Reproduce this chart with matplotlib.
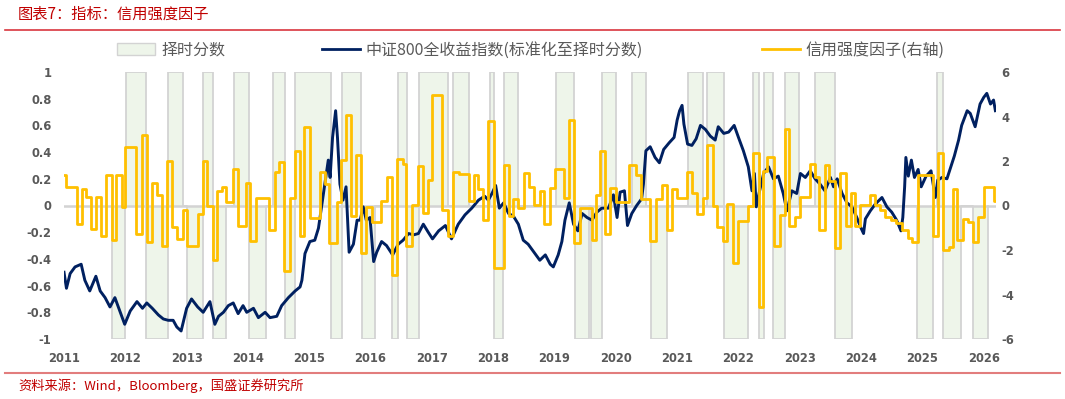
import matplotlib
matplotlib.use('Agg')
import matplotlib.pyplot as plt
from matplotlib.patches import Patch
from matplotlib.lines import Line2D

plt.rcParams['font.family'] = ['Noto Sans CJK SC', 'DejaVu Sans']

# 信用强度因子（右轴），阶梯序列：变化起点（年份小数）与取值
credit_dates = [2011.00, 2011.03, 2011.21, 2011.29, 2011.36, 2011.44, 2011.52, 2011.60, 2011.69, 2011.78,
                2011.85, 2011.94, 2012.00, 2012.17, 2012.27, 2012.35, 2012.43, 2012.51, 2012.60, 2012.68,
                2012.76, 2012.84, 2012.94, 2013.01, 2013.19, 2013.26, 2013.34, 2013.43, 2013.50, 2013.58,
                2013.65, 2013.75, 2013.83, 2013.97, 2014.03, 2014.13, 2014.35, 2014.44, 2014.51, 2014.58,
                2014.69, 2014.77, 2014.85, 2014.92, 2015.01, 2015.18, 2015.26, 2015.33, 2015.45, 2015.52,
                2015.60, 2015.68, 2015.76, 2015.84, 2015.93, 2016.03, 2016.17, 2016.26, 2016.35, 2016.43,
                2016.53, 2016.57, 2016.68, 2016.77, 2016.85, 2016.94, 2017.00, 2017.16, 2017.26, 2017.34,
                2017.45, 2017.60, 2017.68, 2017.76, 2017.84, 2017.92, 2018.01, 2018.17, 2018.25, 2018.33,
                2018.41, 2018.51, 2018.59, 2018.67, 2018.77, 2018.83, 2018.92, 2019.01, 2019.16, 2019.24,
                2019.32, 2019.42, 2019.61, 2019.68, 2019.74, 2019.83, 2019.91, 2020.00, 2020.22, 2020.33,
                2020.41, 2020.56, 2020.66, 2020.75, 2020.83, 2020.91, 2021.00, 2021.16, 2021.24, 2021.33,
                2021.42, 2021.49, 2021.58, 2021.65, 2021.75, 2021.82, 2021.91, 2022.00, 2022.16, 2022.24,
                2022.33, 2022.40, 2022.47, 2022.58, 2022.67, 2022.76, 2022.83, 2022.92, 2023.01, 2023.16,
                2023.25, 2023.32, 2023.41, 2023.48, 2023.57, 2023.65, 2023.76, 2023.84, 2023.90, 2023.99,
                2024.15, 2024.23, 2024.31, 2024.39, 2024.49, 2024.57, 2024.67, 2024.76, 2024.83, 2024.92,
                2025.18, 2025.26, 2025.34, 2025.43, 2025.50, 2025.57, 2025.66, 2025.75, 2025.83, 2025.91,
                2026.00, 2026.16]
credit_vals = [1.35, 0.82, -0.82, 0.75, 0.37, -1.05, 0.37, -1.38, 1.39, -1.57,
               1.39, -0.07, 2.65, -1.27, 3.18, -1.65, 1.00, 0.45, -1.80, 1.98,
               -0.95, -1.50, -0.20, -1.80, -0.37, 2.02, -0.03, -2.44, 0.63, 0.82,
               0.15, 1.65, -0.90, 1.00, -1.60, 0.33, -1.12, 1.52, 1.97, -2.94,
               0.33, 2.47, -1.35, 3.54, -0.57, 1.52, 0.97, -1.69, 0.15, 2.05,
               4.07, -0.45, 2.27, -2.14, -0.07, -0.72, 0.18, 1.27, -3.14, 2.09,
               1.87, -1.84, 0.03, 1.79, -0.34, 1.15, 4.96, -0.22, -1.39, 1.52,
               1.42, 0.18, 1.35, 0.75, -0.64, 3.81, -2.81, 1.82, -0.45, 0.30,
               -0.12, 1.45, 0.82, 0.03, 0.63, -0.82, 0.78, 1.64, 0.34, 3.86,
               -1.69, -0.12, -1.57, 0.45, 2.47, -1.27, 0.78, 0.15, 1.82, 1.35,
               0.30, -1.61, 0.30, 0.94, -1.12, 0.75, 0.33, 1.52, 0.57, -0.40,
               0.33, 2.74, -0.04, -0.97, -1.61, 0.07, -2.57, -0.70, -0.04, 2.35,
               -4.54, 1.53, 2.20, -1.80, -0.42, 3.45, -0.90, -0.52, 0.40, 1.87,
               1.30, -1.09, 1.83, 1.08, -1.92, 1.45, -0.90, 0.57, -0.90, 0.03,
               0.49, 0.03, -0.22, -0.52, -0.67, -0.79, -1.12, -1.45, -1.65, 1.35,
               -1.35, 2.35, -2.00, -1.87, 0.75, -1.54, -0.60, -0.75, -1.65, -0.50,
               0.82, 0.22]
credit_end = 2026.19

# 择时分数：区间起止与取值（+1 / -1）
score_start = [2011.78, 2012.01, 2012.33, 2012.69, 2013.01, 2013.26, 2013.43, 2013.78, 2014.02, 2014.41,
               2014.60, 2014.77, 2015.35, 2015.53, 2015.86, 2016.35, 2016.44, 2016.60, 2016.79, 2017.34,
               2017.94, 2018.01, 2018.17, 2019.03, 2019.34, 2019.59, 2019.77, 2020.26, 2020.58, 2021.17,
               2021.48, 2021.76, 2022.24, 2022.34, 2022.41, 2022.57, 2022.76, 2023.24, 2023.57, 2024.91,
               2025.24, 2025.33, 2025.83]
score_end = [2012.00, 2012.33, 2012.69, 2012.94, 2013.26, 2013.43, 2013.65, 2014.01, 2014.29, 2014.60,
             2014.77, 2015.35, 2015.53, 2015.84, 2016.07, 2016.44, 2016.60, 2016.79, 2017.27, 2017.60,
             2018.01, 2018.16, 2018.40, 2019.32, 2019.56, 2019.77, 2020.00, 2020.49, 2020.84, 2021.42,
             2021.76, 2022.16, 2022.33, 2022.41, 2022.57, 2022.76, 2022.99, 2023.57, 2023.85, 2025.18,
             2025.33, 2025.63, 2026.07]
score_val = [-1, 1, -1, 1, -1, 1, -1, 1, -1, 1,
             -1, 1, -1, 1, -1, -1, 1, -1, 1, 1,
             1, -1, 1, 1, -1, -1, 1, 1, -1, 1,
             1, -1, 1, -1, 1, -1, 1, 1, -1, -1,
             1, -1, -1]

# 中证800全收益指数（标准化至择时分数）
csi_dates = [2011.00, 2011.04, 2011.10, 2011.18, 2011.28, 2011.34, 2011.42, 2011.52, 2011.59, 2011.67,
             2011.75, 2011.83, 2011.91, 2011.99, 2012.08, 2012.19, 2012.28, 2012.35, 2012.44, 2012.54,
             2012.62, 2012.70, 2012.78, 2012.84, 2012.91, 2013.00, 2013.08, 2013.18, 2013.27, 2013.38,
             2013.46, 2013.52, 2013.60, 2013.68, 2013.76, 2013.84, 2013.92, 2013.98, 2014.09, 2014.17,
             2014.28, 2014.36, 2014.47, 2014.55, 2014.66, 2014.77, 2014.85, 2014.88, 2014.93, 2015.01,
             2015.09, 2015.15, 2015.20, 2015.27, 2015.31, 2015.34, 2015.38, 2015.43, 2015.46, 2015.50,
             2015.55, 2015.60, 2015.65, 2015.72, 2015.78, 2015.83, 2015.88, 2015.93, 2015.99, 2016.05,
             2016.10, 2016.18, 2016.26, 2016.36, 2016.45, 2016.53, 2016.62, 2016.70, 2016.78, 2016.86,
             2016.94, 2017.01, 2017.11, 2017.22, 2017.28, 2017.32, 2017.43, 2017.54, 2017.65, 2017.76,
             2017.86, 2017.92, 2017.98, 2018.04, 2018.10, 2018.17, 2018.25, 2018.33, 2018.41, 2018.49,
             2018.57, 2018.68, 2018.76, 2018.85, 2018.93, 2018.98, 2019.06, 2019.12, 2019.17, 2019.24,
             2019.31, 2019.38, 2019.45, 2019.53, 2019.61, 2019.69, 2019.77, 2019.88, 2019.96, 2020.02,
             2020.07, 2020.14, 2020.19, 2020.26, 2020.34, 2020.42, 2020.45, 2020.49, 2020.56, 2020.64,
             2020.71, 2020.78, 2020.87, 2020.95, 2021.00, 2021.04, 2021.08, 2021.11, 2021.17, 2021.24,
             2021.31, 2021.38, 2021.46, 2021.54, 2021.62, 2021.67, 2021.76, 2021.84, 2021.93, 2022.00,
             2022.08, 2022.16, 2022.22, 2022.26, 2022.29, 2022.34, 2022.41, 2022.49, 2022.57, 2022.65,
             2022.73, 2022.79, 2022.87, 2022.95, 2023.01, 2023.09, 2023.17, 2023.25, 2023.33, 2023.41,
             2023.50, 2023.55, 2023.61, 2023.69, 2023.77, 2023.85, 2023.93, 2023.99, 2024.04, 2024.07,
             2024.15, 2024.23, 2024.34, 2024.42, 2024.50, 2024.58, 2024.65, 2024.68, 2024.71, 2024.73,
             2024.77, 2024.82, 2024.87, 2024.93, 2024.98, 2025.06, 2025.14, 2025.21, 2025.25, 2025.32,
             2025.40, 2025.45, 2025.52, 2025.59, 2025.64, 2025.73, 2025.78, 2025.86, 2025.94, 2026.00,
             2026.05, 2026.11, 2026.16, 2026.19]
csi_vals = [-0.50, -0.62, -0.51, -0.46, -0.44, -0.56, -0.64, -0.53, -0.64, -0.69,
            -0.76, -0.69, -0.79, -0.89, -0.79, -0.72, -0.77, -0.73, -0.77, -0.82,
            -0.85, -0.86, -0.86, -0.91, -0.94, -0.77, -0.70, -0.76, -0.80, -0.72,
            -0.89, -0.83, -0.80, -0.75, -0.73, -0.81, -0.75, -0.80, -0.77, -0.84,
            -0.80, -0.84, -0.83, -0.75, -0.69, -0.64, -0.61, -0.56, -0.36, -0.27,
            -0.26, -0.17, -0.01, 0.21, 0.34, 0.21, 0.51, 0.71, 0.51, 0.16,
            0.04, 0.14, -0.35, -0.29, -0.11, -0.11, -0.01, -0.11, -0.09, -0.42,
            -0.35, -0.27, -0.30, -0.37, -0.29, -0.26, -0.21, -0.22, -0.21, -0.14,
            -0.20, -0.25, -0.19, -0.15, -0.21, -0.25, -0.14, -0.07, -0.02, 0.04,
            0.07, 0.04, 0.09, 0.15, -0.02, 0.02, -0.06, -0.08, -0.14, -0.26,
            -0.29, -0.36, -0.41, -0.37, -0.44, -0.46, -0.37, -0.27, -0.11, 0.02,
            -0.14, -0.19, -0.06, -0.09, -0.11, -0.05, -0.02, -0.02, 0.08, -0.09,
            0.10, 0.11, -0.15, -0.06, 0.00, 0.05, 0.16, 0.41, 0.44, 0.36,
            0.32, 0.42, 0.47, 0.51, 0.64, 0.71, 0.75, 0.61, 0.46, 0.45,
            0.50, 0.60, 0.57, 0.52, 0.49, 0.59, 0.54, 0.55, 0.60, 0.51,
            0.41, 0.29, 0.11, 0.24, -0.01, 0.10, 0.24, 0.29, 0.20, 0.22,
            0.09, -0.04, 0.11, 0.09, 0.24, 0.21, 0.26, 0.20, 0.16, 0.11,
            0.21, 0.14, 0.20, 0.09, 0.02, -0.01, -0.09, -0.16, -0.21, -0.10,
            -0.04, 0.01, 0.06, -0.01, -0.05, -0.11, -0.19, -0.09, 0.14, 0.36,
            0.22, 0.34, 0.21, 0.27, 0.14, 0.22, 0.26, 0.06, 0.19, 0.21,
            0.20, 0.27, 0.37, 0.49, 0.60, 0.71, 0.69, 0.59, 0.76, 0.81,
            0.84, 0.76, 0.79, 0.71]

years = list(range(2011, 2027))
left_ticks = [-1, -0.8, -0.6, -0.4, -0.2, 0, 0.2, 0.4, 0.6, 0.8, 1]
right_ticks = [-6, -4, -2, 0, 2, 4, 6]

NAVY = '#002060'
GOLD = '#FFC000'
FILL = '#EEF5EA'
EDGE = '#D3D3D3'
GREY = '#595959'
RED = '#C00000'

fig = plt.figure(figsize=(10.65, 3.99), dpi=100)
ax = fig.add_axes([64 / 1065, 1 - 339 / 399, (996 - 64) / 1065, (339 - 72) / 399])

# 择时分数面积
sx, sy = [], []
for s, e, v in zip(score_start, score_end, score_val):
    sx += [s, s, e, e]
    sy += [0, v, v, 0]
ax.fill_between(sx, 0, sy, color=FILL, lw=0, zorder=1)
ax.plot(sx, sy, color=EDGE, lw=1.3, zorder=2)
ax.axhline(0, color=EDGE, lw=1.8, zorder=2)

ax.plot(csi_dates, csi_vals, color=NAVY, lw=2.1, zorder=4)

ax2 = ax.twinx()
ax2.step(credit_dates + [credit_end], credit_vals + [credit_vals[-1]],
         where='post', color=GOLD, lw=2.0, zorder=5)

ax.set_xlim(2011.0, 2026.2)
ax.set_ylim(-1, 1)
ax2.set_ylim(-6, 6)
ax.set_xticks(years)
ax.set_xticklabels([str(y) for y in years])
ax.set_yticks(left_ticks)
ax.set_yticklabels(['{:g}'.format(t) for t in left_ticks])
ax2.set_yticks(right_ticks)
ax2.set_yticklabels([str(t) for t in right_ticks])

for a in (ax, ax2):
    for sp in a.spines.values():
        sp.set_visible(False)
ax.tick_params(axis='x', length=0, pad=9, labelcolor=GREY)
ax.tick_params(axis='y', length=0, pad=9, labelcolor=GREY)
ax2.tick_params(axis='y', length=0, pad=4, labelcolor=GREY)
for lab in ax.get_xticklabels() + ax.get_yticklabels() + ax2.get_yticklabels():
    lab.set_family('DejaVu Sans')
    lab.set_fontweight('bold')
    lab.set_fontsize(8.3)

# 图例：三项分开摆放，间距与原图一致
handles = [Patch(facecolor=FILL, edgecolor=EDGE, lw=1.0),
           Line2D([], [], color=NAVY, lw=2.0),
           Line2D([], [], color=GOLD, lw=2.0)]
labels = ['择时分数', '中证800全收益指数(标准化至择时分数)', '信用强度因子(右轴)']
legend_x = [117, 322, 762]
for h, lab, x in zip(handles, labels, legend_x):
    fig.legend([h], [lab], loc='center left', bbox_to_anchor=(x / 1065, 1 - 50 / 399),
               frameon=False, fontsize=11.5, labelcolor=GREY, handlelength=2.4,
               handletextpad=0.35, borderpad=0, borderaxespad=0)

# 标题与来源
fig.text(18 / 1065, 1 - 14 / 399, '图表7：指标：信用强度因子', color=RED, fontsize=11,
         va='center', ha='left')
fig.add_artist(Line2D([5 / 1065, 1060 / 1065], [1 - 30 / 399] * 2, color='#D9363E', lw=1.2))
fig.add_artist(Line2D([5 / 1065, 1060 / 1065], [1 - 373 / 399] * 2, color='#E27D7D', lw=1.5))
fig.text(18 / 1065, 1 - 386 / 399, '资料来源：Wind，Bloomberg，国盛证券研究所', color=RED,
         fontsize=9.5, va='center', ha='left')

fig.savefig('out.png', dpi=100)
